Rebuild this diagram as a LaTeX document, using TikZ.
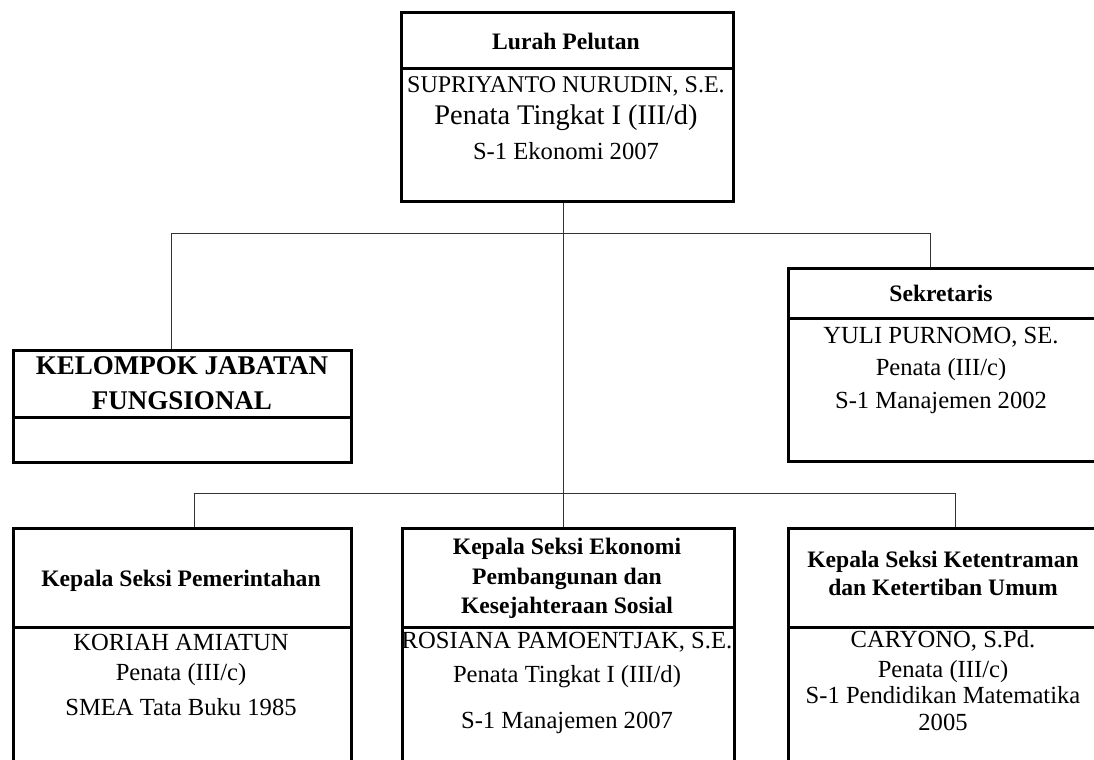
\documentclass[tikz,border=0pt]{standalone}
\usepackage{fontspec}
\setmainfont{Liberation Serif}
\usetikzlibrary{positioning}
\tikzset{
  headbox/.style={draw,line width=1.5pt,anchor=north west,inner sep=0pt},
  bodybox/.style={draw,line width=1.5pt,anchor=north west,inner sep=0pt},
  txt/.style={anchor=base,inner sep=0pt,font=\fontsize{12.3}{14}\selectfont},
  hd/.style={anchor=base,inner sep=0pt,font=\fontsize{11.8}{14}\selectfont\bfseries},
  conn/.style={black!80,line width=0.5pt}
}

\begin{document}
\begin{tikzpicture}[x=0.5pt,y=-0.5pt]
  \useasboundingbox (0,0) rectangle (1094,760);

  % Lurah
  \node[headbox,minimum width=166pt,minimum height=28pt] (lurahHead) at (400,11) {};
  \node[bodybox,minimum width=166pt,minimum height=66.5pt] (lurahBody) at (400,67) {};
  \node[hd] (lurahT) at (566,49) {Lurah Pelutan};
  \node[txt,font=\fontsize{12}{14}\selectfont] (lurahN) at (566,92) {SUPRIYANTO NURUDIN, S.E.};
  \node[txt,font=\fontsize{14.2}{17}\selectfont] (lurahG) at (566,124) {Penata Tingkat I (III/d)};
  \node[txt] (lurahP) at (566,159) {S-1 Ekonomi 2007};

  % kelompok jabatan fungsional
  \node[headbox,minimum width=169pt,minimum height=33.5pt] (kjfHead) at (12,349) {};
  \node[bodybox,minimum width=169pt,minimum height=22.5pt] (kjfBody) at (12,416) {};
  \node[hd,font=\fontsize{13.5}{16}\selectfont\bfseries] (kjfT1) at (182,374) {KELOMPOK JABATAN};
  \node[hd,font=\fontsize{13.5}{16}\selectfont\bfseries] (kjfT2) at (182,409) {FUNGSIONAL};

  % sekretaris
  \node[headbox,minimum width=156.5pt,minimum height=25pt] (sekHead) at (787,267) {};
  \node[bodybox,minimum width=156.5pt,minimum height=71.5pt] (sekBody) at (787,317) {};
  \node[hd] (sekT) at (941,301) {Sekretaris};
  \node[txt] (sekN) at (941,343) {YULI PURNOMO, SE.};
  \node[txt] (sekG) at (941,375) {Penata (III/c)};
  \node[txt] (sekP) at (941,408) {S-1 Manajemen 2002};

  % seksi pemerintahan
  \node[headbox,minimum width=169pt,minimum height=49.5pt] (pemHead) at (12,527) {};
  \node[bodybox,minimum width=169pt,minimum height=100pt] (pemBody) at (12,626) {};
  \node[hd] (pemT) at (181,586) {Kepala Seksi Pemerintahan};
  \node[txt] (pemN) at (181,650) {KORIAH AMIATUN};
  \node[txt] (pemG) at (181,680) {Penata (III/c)};
  \node[txt] (pemP) at (181,715) {SMEA Tata Buku 1985};

  % seksi ekonomi
  \node[headbox,minimum width=166pt,minimum height=49.5pt] (ekoHead) at (401,527) {};
  \node[bodybox,minimum width=166pt,minimum height=100pt] (ekoBody) at (401,626) {};
  \node[hd] (ekoT1) at (567,554) {Kepala Seksi Ekonomi};
  \node[hd] (ekoT2) at (567,584) {Pembangunan dan};
  \node[hd] (ekoT3) at (567,613) {Kesejahteraan Sosial};
  \node[txt] (ekoN) at (567,648) {ROSIANA PAMOENTJAK, S.E.};
  \node[txt] (ekoG) at (567,682) {Penata Tingkat I (III/d)};
  \node[txt] (ekoP) at (567,728) {S-1 Manajemen 2007};

  % seksi ketentraman
  \node[headbox,minimum width=156.5pt,minimum height=49.5pt] (ketHead) at (787,527) {};
  \node[bodybox,minimum width=156.5pt,minimum height=100pt] (ketBody) at (787,626) {};
  \node[hd] (ketT1) at (943,567) {Kepala Seksi Ketentraman};
  \node[hd] (ketT2) at (943,595) {dan Ketertiban Umum};
  \node[txt] (ketN) at (943,647) {CARYONO, S.Pd.};
  \node[txt] (ketG) at (943,677) {Penata (III/c)};
  \node[txt] (ketP1) at (943,703) {S-1 Pendidikan Matematika};
  \node[txt] (ketP2) at (943,730) {2005};

  % garis
  \coordinate (busUpL) at (171,233);
  \coordinate (busUpR) at (930,233);
  \coordinate (busLoL) at (194,493);
  \coordinate (busLoR) at (955,493);
  \draw[conn] ([xshift=-2pt]lurahBody.south) -- ([xshift=-2pt]lurahBody.south |- ekoHead.north);
  \draw[conn] (busUpL) -- (busUpR);
  \draw[conn] (busUpL) -- (busUpL |- kjfHead.north);
  \draw[conn] (busUpR) -- (busUpR |- sekHead.north);
  \draw[conn] (busLoL) -- (busLoR);
  \draw[conn] (busLoL) -- (busLoL |- pemHead.north);
  \draw[conn] (busLoR) -- (busLoR |- ketHead.north);
\end{tikzpicture}
\end{document}
